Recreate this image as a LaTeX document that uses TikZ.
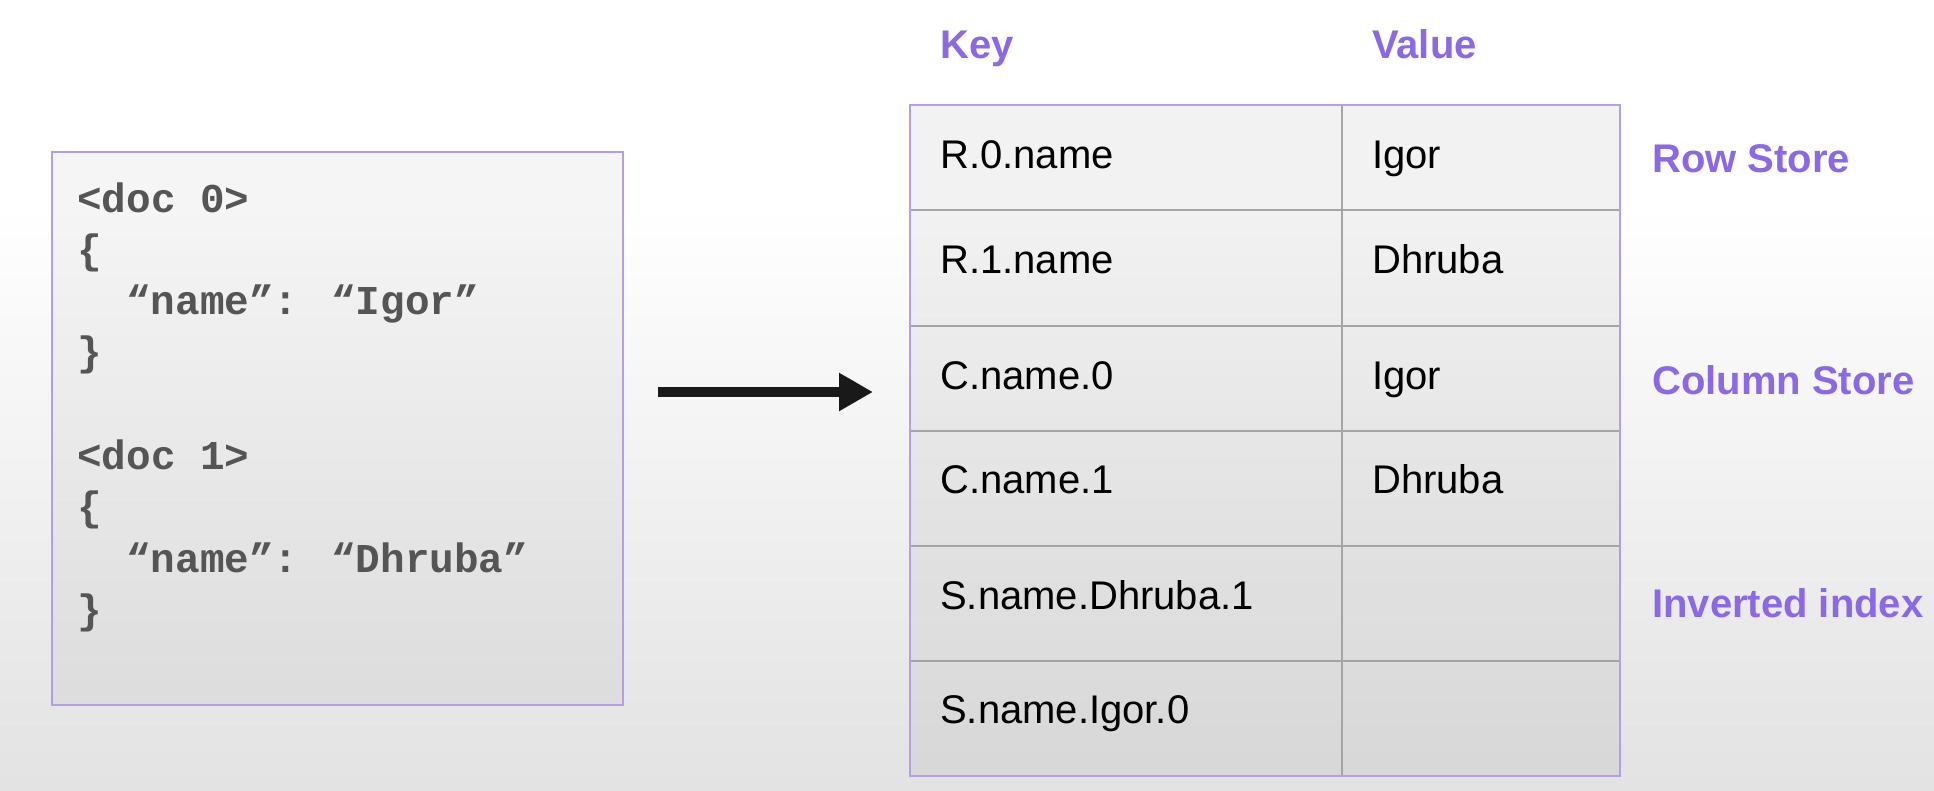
\documentclass[tikz,border=0pt]{standalone}
\usepackage{fontspec}
\setmainfont{Liberation Sans}
\newfontfamily\codefont{Liberation Mono}
\usetikzlibrary{arrows.meta}
\definecolor{purpletext}{RGB}{139,104,230}
\definecolor{purpleline}{RGB}{180,158,228}
\definecolor{gridgray}{RGB}{165,165,165}
\definecolor{codegray}{RGB}{85,85,85}
\definecolor{bgbot}{RGB}{212,212,212}
\definecolor{bgmid}{RGB}{230,230,230}
\pgfdeclareverticalshading{bgshade}{100bp}{color(0bp)=(bgbot); color(30bp)=(bgmid); color(62bp)=(white); color(100bp)=(white)}
\begin{document}
\begin{tikzpicture}[x=1pt,y=-1pt,
  docbox/.style={draw=purpleline, line width=2.5pt, fill=black, fill opacity=0.04, inner sep=0pt, outer sep=0pt, anchor=north west},
  cell/.style={draw=gridgray, line width=2pt, fill=black, fill opacity=0.05, inner sep=0pt, outer sep=0pt, anchor=north west},
  codetext/.style={font=\codefont\bfseries\fontsize{41}{51}\selectfont, text=codegray, inner sep=0pt, anchor=base west},
  celltext/.style={font=\fontsize{40}{48}\selectfont, text=black, inner sep=0pt, anchor=base west},
  headtext/.style={font=\bfseries\fontsize{40}{48}\selectfont, text=purpletext, inner sep=0pt, anchor=base west},
  bigarrow/.style={line width=10pt, draw=black!90, -{Triangle[length=34pt, width=36pt]}}
]
\useasboundingbox (0,0) rectangle (1934,790);
\fill[shading=bgshade] (0,0) rectangle (1934,790);

% left document box
\node[docbox, minimum width=571pt, minimum height=553pt] (docs) at (52,152) {};
\node[codetext] (c1) at (77,212) {<doc 0>};
\node[codetext] (c2) at (77,263) {\{};
\node[codetext] (c3) at (126,314) {“name”: “Igor”};
\node[codetext] (c4) at (77,365) {\}};
\node[codetext] (c5) at (77,469) {<doc 1>};
\node[codetext] (c6) at (77,520) {\{};
\node[codetext] (c7) at (126,572) {“name”: “Dhruba”};
\node[codetext] (c8) at (77,623) {\}};

% arrow
\coordinate (a0) at (658,392);
\coordinate (a1) at (873,392);
\draw[bigarrow] (a0) -- (a1);

% table headers
\node[headtext] (hk) at (940,58) {Key};
\node[headtext] (hv) at (1372,58) {Value};

% table cells
\node[cell, minimum width=432pt, minimum height=105pt] (k1) at (910,105) {};
\node[cell, minimum width=278pt, minimum height=105pt] (v1) at (1342,105) {};
\node[cell, minimum width=432pt, minimum height=116pt] (k2) at (910,210) {};
\node[cell, minimum width=278pt, minimum height=116pt] (v2) at (1342,210) {};
\node[cell, minimum width=432pt, minimum height=105pt] (k3) at (910,326) {};
\node[cell, minimum width=278pt, minimum height=105pt] (v3) at (1342,326) {};
\node[cell, minimum width=432pt, minimum height=115pt] (k4) at (910,431) {};
\node[cell, minimum width=278pt, minimum height=115pt] (v4) at (1342,431) {};
\node[cell, minimum width=432pt, minimum height=115pt] (k5) at (910,546) {};
\node[cell, minimum width=278pt, minimum height=115pt] (v5) at (1342,546) {};
\node[cell, minimum width=432pt, minimum height=115pt] (k6) at (910,661) {};
\node[cell, minimum width=278pt, minimum height=115pt] (v6) at (1342,661) {};
\draw[purpleline, line width=2.5pt] (k1.north west) rectangle (v6.south east);

% cell texts
\node[celltext] (kt1) at (940,168) {R.0.name};
\node[celltext] (vt1) at (1372,168) {Igor};
\node[celltext] (kt2) at (940,273) {R.1.name};
\node[celltext] (vt2) at (1372,273) {Dhruba};
\node[celltext] (kt3) at (940,389) {C.name.0};
\node[celltext] (vt3) at (1372,389) {Igor};
\node[celltext] (kt4) at (940,493) {C.name.1};
\node[celltext] (vt4) at (1372,493) {Dhruba};
\node[celltext] (kt5) at (940,609) {S.name.Dhruba.1};
\node[celltext] (kt6) at (940,723) {S.name.Igor.0};

% side labels
\node[headtext] (l1) at (1652,172) {Row Store};
\node[headtext] (l2) at (1652,394) {Column Store};
\node[headtext] (l3) at (1652,617) {Inverted index};
\end{tikzpicture}
\end{document}
